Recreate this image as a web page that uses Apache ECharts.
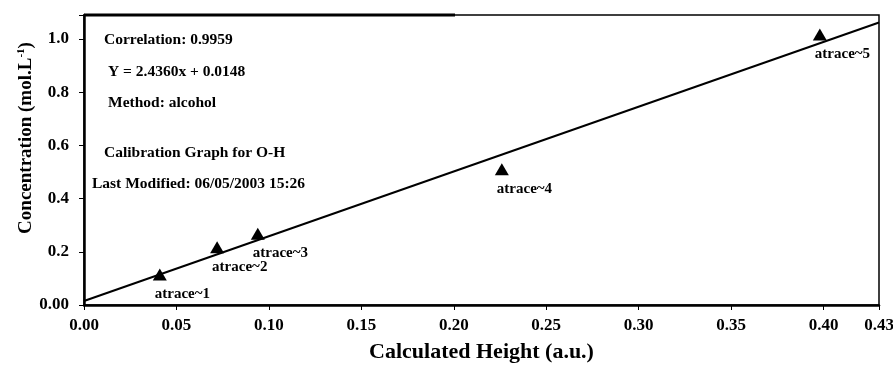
<!DOCTYPE html>
<html>
<head>
<meta charset="utf-8">
<script src="https://cdn.jsdelivr.net/npm/echarts@6/dist/echarts.min.js"></script>
<style>
  html, body { margin: 0; padding: 0; background: #fff; }
  #chart { width: 893px; height: 370px; }
</style>
</head>
<body>
<div id="chart"></div>
<script>
// samples
const sampleNames = ['atrace~1', 'atrace~2', 'atrace~3', 'atrace~4', 'atrace~5'];
const heights = [0.041, 0.072, 0.094, 0.226, 0.398];
const concentrations = [0.115, 0.217, 0.268, 0.51, 1.017];

// fitted line end points
const fitX = [0, 0.43];
const fitY = [0.015, 1.062];

// y tick labels as printed
const yTickValues = [0, 0.2, 0.4, 0.6, 0.8, 1.0];
const yTickLabels = ['0.00', '0.2', '0.4', '0.6', '0.8', '1.0'];

const notes = [
  'Correlation: 0.9959',
  'Y = 2.4360x + 0.0148',
  'Method: alcohol',
  'Calibration Graph for O-H',
  'Last Modified: 06/05/2003 15:26'
];

const FONT = '"Liberation Serif", "DejaVu Serif", serif';

const chart = echarts.init(document.getElementById('chart'));

// note positions
const noteX = [104, 108, 108, 104, 92];
const noteY = [40, 72, 103, 153, 184];

const graphics = notes.map((txt, i) => ({
  type: 'text',
  left: noteX[i],
  top: noteY[i] - 8,
  z: 10,
  style: {
    text: txt,
    fill: '#000',
    font: 'bold 15.5px ' + FONT
  }
}));
// thicker left half of the top frame
graphics.push({
  type: 'line',
  shape: { x1: 84, y1: 15, x2: 455, y2: 15 },
  style: { stroke: '#000', lineWidth: 3 },
  z: 10
});

chart.setOption({
  animation: false,
  backgroundColor: '#fff',
  grid: {
    left: 84,
    right: 14,
    top: 15,
    bottom: 65,
    show: true,
    borderColor: '#000',
    borderWidth: 1.5,
    outerBoundsMode: 'none'
  },
  xAxis: {
    type: 'value',
    min: 0,
    max: 0.43,
    interval: 0.05,
    name: 'Calculated Height (a.u.)',
    nameLocation: 'middle',
    nameGap: 36,
    nameMoveOverlap: false,
    nameTextStyle: { color: '#000', fontFamily: FONT, fontWeight: 'bold', fontSize: 22 },
    axisLine: { show: true, lineStyle: { color: '#000', width: 2.5 } },
    axisTick: { show: true, length: 5, lineStyle: { color: '#000', width: 1 } },
    axisLabel: {
      color: '#000',
      fontFamily: FONT,
      fontWeight: 'bold',
      fontSize: 17,
      margin: 12,
      formatter: v => v.toFixed(2)
    },
    splitLine: { show: false }
  },
  yAxis: {
    type: 'value',
    min: 0,
    max: 1.09,
    interval: 0.2,
    name: '{t|Concentration (mol.L}{s|-1}{t|)}',
    nameLocation: 'middle',
    nameRotate: 90,
    nameGap: 47,
    nameMoveOverlap: false,
    nameTextStyle: {
      color: '#000',
      fontFamily: FONT,
      fontWeight: 'bold',
      fontSize: 19,
      padding: [0, 0, 0, 44],
      rich: {
        t: { fontFamily: FONT, fontWeight: 'bold', fontSize: 19, color: '#000' },
        s: { fontFamily: FONT, fontWeight: 'bold', fontSize: 11, color: '#000', padding: [0, 0, 10, 0] }
      }
    },
    axisLine: { show: true, lineStyle: { color: '#000', width: 2.5 } },
    axisTick: { show: true, length: 5, lineStyle: { color: '#000', width: 1 } },
    axisLabel: {
      color: '#000',
      fontFamily: FONT,
      fontWeight: 'bold',
      fontSize: 17,
      margin: 15,
      formatter: v => {
        const i = yTickValues.findIndex(t => Math.abs(t - v) < 1e-9);
        return i >= 0 ? yTickLabels[i] : '';
      }
    },
    splitLine: { show: false }
  },
  graphic: graphics,
  series: [
    {
      type: 'line',
      data: fitX.map((x, i) => [x, fitY[i]]),
      showSymbol: false,
      lineStyle: { color: '#000', width: 2 },
      z: 2
    },
    {
      type: 'scatter',
      symbol: 'triangle',
      symbolSize: [14, 12],
      itemStyle: { color: '#000', opacity: 1 },
      data: heights.map((x, i) => ({ name: sampleNames[i], value: [x, concentrations[i]] })),
      label: {
        show: true,
        position: 'bottom',
        align: 'left',
        offset: [-5, 1],
        formatter: p => p.name,
        color: '#000',
        fontFamily: FONT,
        fontWeight: 'bold',
        fontSize: 15
      },
      z: 3
    }
  ]
});
</script>
</body>
</html>
